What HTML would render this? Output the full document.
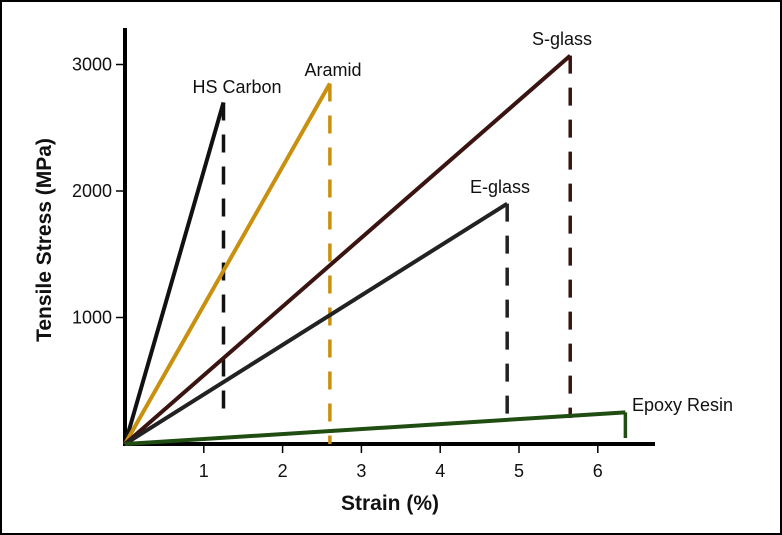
<!DOCTYPE html>
<html><head><meta charset="utf-8"><style>
body{margin:0;background:#fff}
svg{display:block}
text{font-family:"Liberation Sans Narrow","Liberation Sans",sans-serif;fill:#111}
</style></head><body>
<svg width="782" height="535" xmlns="http://www.w3.org/2000/svg">
<rect x="1" y="1" width="780" height="533" fill="#fff" stroke="#000" stroke-width="2"/>
<g id="plot"></g>
</svg>
<script>
const materials=["HS Carbon","Aramid","S-glass","E-glass","Epoxy Resin"];
const strains=[1.25,2.6,5.65,4.85,6.35];
const stresses=[2700,2850,3070,1900,250];
const colors=["#111","#c8900e","#3a1410","#222","#1f4d12"];
const xTicks=[1,2,3,4,5,6];
const yTicks=[1000,2000,3000];
const X=v=>125+v*78.8, Y=v=>444-v*0.1265;
const ns="http://www.w3.org/2000/svg", g=document.getElementById("plot");
function mk(t,a){const e=document.createElementNS(ns,t);for(const k in a)e.setAttribute(k,a[k]);g.appendChild(e);return e;}
let e=mk("line",{x1:125,y1:28,x2:125,y2:446,stroke:"#000","stroke-width":4});


e=mk("line",{x1:123,y1:444,x2:655,y2:444,stroke:"#000","stroke-width":4});


xTicks.forEach(t=>{
 let l=mk("line",{x1:X(t),y1:444,x2:X(t),y2:453,stroke:"#000","stroke-width":1.5});
 
 
 let tx=mk("text",{x:X(t),y:477,"text-anchor":"middle","font-size":18});tx.textContent=t;
 
 
});
yTicks.forEach(t=>{
 let l=mk("line",{x1:116,y1:Y(t),x2:125,y2:Y(t),stroke:"#000","stroke-width":1.5});
 
 
 let tx=mk("text",{x:112,y:Y(t)+6,"text-anchor":"end","font-size":18});tx.textContent=t;
 
 
});
let xt=mk("text",{x:390,y:510,"text-anchor":"middle","font-size":21,"font-weight":"bold"});xt.textContent="Strain (%)";


let yt=mk("text",{x:0,y:0,"text-anchor":"middle","font-size":21,"font-weight":"bold",transform:"translate(51,240) rotate(-90)"});yt.textContent="Tensile Stress (MPa)";


const dashEnd=[418,444,418,420,438];
const labelPos=[[237,93,"middle"],[333,76,"middle"],[562,45,"middle"],[500,193,"middle"],[632,411,"start"]];
materials.forEach((m,i)=>{
 const px=X(strains[i]),py=Y(stresses[i]);
 let l=mk("line",{x1:X(0),y1:Y(0),x2:px,y2:py,stroke:colors[i],"stroke-width":4});
 
 
 const a={x1:px,y1:py,x2:px,y2:Y(0)-(444-dashEnd[i]),stroke:colors[i],"stroke-width":3.5};
 if(i<4)a["stroke-dasharray"]="18,14";
 let d=mk("line",a);
 
 
 let t=mk("text",{x:labelPos[i][0],y:labelPos[i][1],"text-anchor":labelPos[i][2],"font-size":18});t.textContent=m;
 
 
});
</script>
</body></html>
